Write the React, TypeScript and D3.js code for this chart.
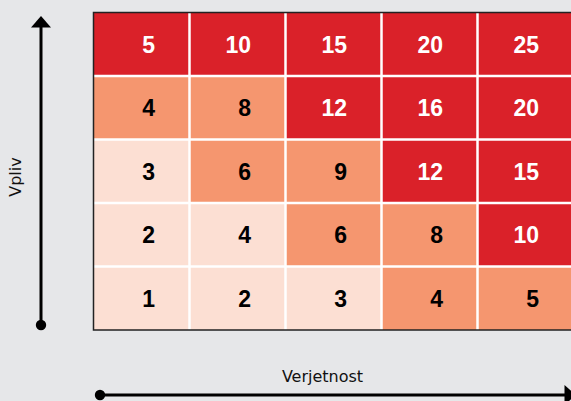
import React, { useEffect, useRef } from "react";
import * as d3 from "d3";

// Verjetnost (x) and Vpliv (y) levels
const likelihood = [1, 2, 3, 4, 5];
const impact = [1, 2, 3, 4, 5];

// cell values per impact row (row 1 = bottom)
const cellValues = [
  [1, 2, 3, 4, 5],
  [2, 4, 6, 8, 10],
  [3, 6, 9, 12, 15],
  [4, 8, 12, 16, 20],
  [5, 10, 15, 20, 25],
];

// risk level per cell: 0 low, 1 medium, 2 high
const riskLevels = [
  [0, 0, 0, 1, 1],
  [0, 0, 1, 1, 2],
  [0, 1, 1, 2, 2],
  [1, 1, 2, 2, 2],
  [2, 2, 2, 2, 2],
];

const levelColors = ["#fcdfd3", "#f5966f", "#da2129"];
const levelText = ["#000000", "#000000", "#ffffff"];

const App = () => {
  const ref = useRef<SVGSVGElement>(null);

  useEffect(() => {
    document.body.style.margin = "0";
    const svg = d3.select(ref.current);
    svg.selectAll("*").remove();

    const width = 571;
    const height = 401;
    svg.attr("width", width).attr("height", height);

    svg
      .append("rect")
      .attr("width", width)
      .attr("height", height)
      .attr("fill", "#e6e7e9");

    const x = d3.scaleBand<number>().domain(likelihood).range([93.5, 573.5]);
    const y = d3
      .scaleBand<number>()
      .domain([...impact].reverse())
      .range([12.5, 330]);

    const cells = impact.flatMap((imp, i) =>
      likelihood.map((lik, j) => ({
        lik,
        imp,
        value: cellValues[i][j],
        level: riskLevels[i][j],
      }))
    );

    const grid = svg.append("g");

    grid
      .selectAll(".cell")
      .data(cells)
      .enter()
      .append("rect")
      .attr("class", "cell")
      .attr("x", (d) => x(d.lik)!)
      .attr("y", (d) => y(d.imp)!)
      .attr("width", x.bandwidth())
      .attr("height", y.bandwidth())
      .attr("fill", (d) => levelColors[d.level]);

    // white separators between cells
    grid
      .selectAll(".vsep")
      .data(likelihood.slice(1))
      .enter()
      .append("line")
      .attr("x1", (d) => x(d)!)
      .attr("x2", (d) => x(d)!)
      .attr("y1", 12.5)
      .attr("y2", 330)
      .attr("stroke", "#ffffff")
      .attr("stroke-width", 2.5);

    grid
      .selectAll(".hsep")
      .data(impact.slice(0, -1))
      .enter()
      .append("line")
      .attr("x1", 93.5)
      .attr("x2", 573.5)
      .attr("y1", (d) => y(d)!)
      .attr("y2", (d) => y(d)!)
      .attr("stroke", "#ffffff")
      .attr("stroke-width", 2.5);

    // outer border
    grid
      .append("rect")
      .attr("x", 93.5)
      .attr("y", 12.5)
      .attr("width", 480)
      .attr("height", 317.5)
      .attr("fill", "none")
      .attr("stroke", "#222")
      .attr("stroke-width", 1.5);

    grid
      .selectAll(".value")
      .data(cells)
      .enter()
      .append("text")
      .attr("class", "value")
      .attr("x", (d) => x(d.lik)! + x.bandwidth() / 2 + 13.5)
      .attr("y", (d) => y(d.imp)! + y.bandwidth() / 2)
      .attr("dy", "0.37em")
      .attr("text-anchor", "end")
      .text((d) => d.value)
      .style("font-family", "'Liberation Sans', Arial, sans-serif")
      .style("font-size", "23px")
      .style("font-weight", "700")
      .style("fill", (d) => levelText[d.level]);

    // vertical axis arrow (Vpliv)
    svg
      .append("line")
      .attr("x1", 41)
      .attr("x2", 41)
      .attr("y1", 26)
      .attr("y2", 325)
      .attr("stroke", "#000")
      .attr("stroke-width", 3);
    svg
      .append("path")
      .attr("d", "M41,16 L51,27.5 L31,27.5 Z")
      .attr("fill", "#000");
    svg.append("circle").attr("cx", 41).attr("cy", 325).attr("r", 5.2).attr("fill", "#000");

    // horizontal axis arrow (Verjetnost)
    svg
      .append("line")
      .attr("x1", 100)
      .attr("x2", 566)
      .attr("y1", 395)
      .attr("y2", 395)
      .attr("stroke", "#000")
      .attr("stroke-width", 3);
    svg
      .append("path")
      .attr("d", "M576,395 L564.5,385 L564.5,405 Z")
      .attr("fill", "#000");
    svg.append("circle").attr("cx", 100).attr("cy", 395).attr("r", 5.2).attr("fill", "#000");

    svg
      .append("text")
      .attr("x", 322.5)
      .attr("y", 381.5)
      .attr("text-anchor", "middle")
      .text("Verjetnost")
      .style("font-family", "'DejaVu Sans', sans-serif")
      .style("font-size", "16px")
      .style("fill", "#111");

    svg
      .append("text")
      .attr("transform", "translate(21,177) rotate(-90)")
      .attr("text-anchor", "middle")
      .text("Vpliv")
      .style("font-family", "'DejaVu Sans', sans-serif")
      .style("font-size", "16px")
      .style("fill", "#111");
  }, []);

  return <svg ref={ref} style={{ display: "block" }}></svg>;
};

export default App;
